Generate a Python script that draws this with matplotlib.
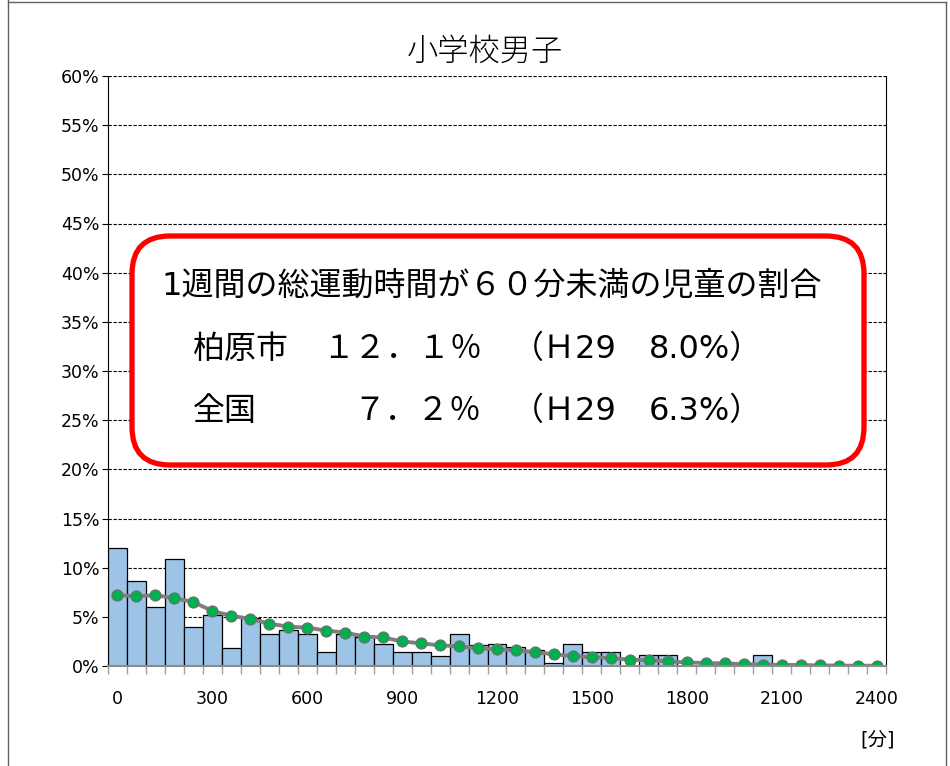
import numpy as np
import matplotlib.pyplot as plt
from matplotlib.patches import FancyBboxPatch
from matplotlib.lines import Line2D
from matplotlib.transforms import IdentityTransform

plt.rcParams['font.family'] = ['DejaVu Sans', 'Noto Sans CJK JP']

# 1週間の総運動時間 (分), 60分刻み
minutes = np.arange(0, 2401, 60)
# 柏原市 (棒)
kashiwara = [12.0, 8.6, 6.0, 10.9, 4.0, 5.2, 1.8, 4.9, 3.3, 3.7,
             3.3, 1.4, 3.3, 2.9, 2.2, 1.4, 1.4, 1.0, 3.3, 2.1,
             2.2, 1.9, 1.6, 0.3, 2.2, 1.4, 1.4, 0.0, 1.1, 1.1,
             0.0, 0.0, 0.0, 0.0, 1.1, 0.0, 0.0, 0.0, 0.0, 0.0, 0.0]
# 全国 (折れ線)
national = [7.2, 7.1, 7.2, 6.9, 6.5, 5.6, 5.1, 4.8, 4.3, 4.0,
            3.9, 3.6, 3.4, 3.0, 2.9, 2.5, 2.3, 2.1, 2.0, 1.8,
            1.7, 1.6, 1.4, 1.2, 1.0, 0.9, 0.8, 0.65, 0.58, 0.47,
            0.37, 0.3, 0.26, 0.2, 0.14, 0.1, 0.1, 0.06, 0.04, 0.03, 0.03]

W, H = 950, 766
fig = plt.figure(figsize=(W / 100, H / 100), dpi=100)
ax = fig.add_axes([108 / W, 1 - 666 / H, 778 / W, 590 / H])

x = np.arange(len(minutes))
ax.bar(x, kashiwara, width=1.0, color='#9dc3e6', edgecolor='black', linewidth=0.9, zorder=3)
ax.plot(x, national, color='#7f7f7f', linewidth=2.8, marker='o', markersize=8,
        markerfacecolor='#00b050', markeredgecolor='#6f6f6f', markeredgewidth=0.8, zorder=4)

ax.set_xlim(-0.5, len(minutes) - 0.5)
ax.set_ylim(0, 60)
ax.set_yticks(np.arange(0, 61, 5))
ax.set_yticklabels(['%d%%' % v for v in range(0, 61, 5)], fontsize=12.5)
ax.yaxis.grid(True, linestyle=(0, (3, 1.5)), color='black', linewidth=0.8, zorder=0)
ax.tick_params(axis='y', length=4, width=0.8, pad=2)

major = x[::5]
ax.set_xticks(major)
ax.set_xticklabels([str(m) for m in minutes[::5]], fontsize=12.5)
ax.set_xticks(np.arange(len(minutes) + 1) - 0.5, minor=True)
ax.tick_params(axis='x', which='major', length=0, pad=17)
ax.tick_params(axis='x', which='minor', length=6, width=1, color='#a0a0a0')

ax.spines['top'].set_visible(False)
ax.spines['left'].set_color('black')
ax.spines['right'].set_color('black')
ax.spines['bottom'].set_color('#8c8c8c')
ax.spines['bottom'].set_linewidth(1.5)
ax.spines['bottom'].set_zorder(5)

fig.text(485 / W, 1 - 52 / H, '小学校男子', fontsize=22.5, ha='center', va='center',
         family=['Noto Sans CJK JP'], fontweight='light')
fig.text(878 / W, 1 - 740 / H, '[分]', fontsize=14, ha='center', va='center')

# 注記の枠
box = FancyBboxPatch((132, H - 465), 732, 229, boxstyle='round,pad=0,rounding_size=38',
                     transform=IdentityTransform(), facecolor='white', edgecolor='#ff0000',
                     linewidth=3.8, zorder=10)
fig.patches.append(box)

mix = ['DejaVu Sans', 'Noto Sans CJK JP']
jp = ['Noto Sans CJK JP']
tsize = 23
fig.text(161 / W, 1 - 286 / H, '1週間の総運動時間が６０分未満の児童の割合', fontsize=tsize,
         va='center', family=mix, zorder=11)
rows = [(349, '柏原市', '１２．１％', 322, '8.0%）'),
        (411, '全国', '７．２％', 353, '6.3%）')]
for y, name, val, vx, prev in rows:
    fig.text(193 / W, 1 - y / H, name, fontsize=tsize, va='center', family=jp, zorder=11)
    fig.text(vx / W, 1 - y / H, val, fontsize=tsize, va='center', family=jp, zorder=11)
    fig.text(512 / W, 1 - y / H, '（Ｈ29', fontsize=tsize, va='center', family=mix, zorder=11)
    fig.text(649 / W, 1 - y / H, prev, fontsize=tsize, va='center', family=mix, zorder=11)

# 外枠
for xs, ys in [([8, 8], [H, 0]), ([8, 946], [H - 2, H - 2]), ([946, 946], [H - 2, 0])]:
    fig.lines.append(Line2D(xs, ys, transform=IdentityTransform(), color='#606060', linewidth=1))

fig.savefig('out.png', dpi=100)
